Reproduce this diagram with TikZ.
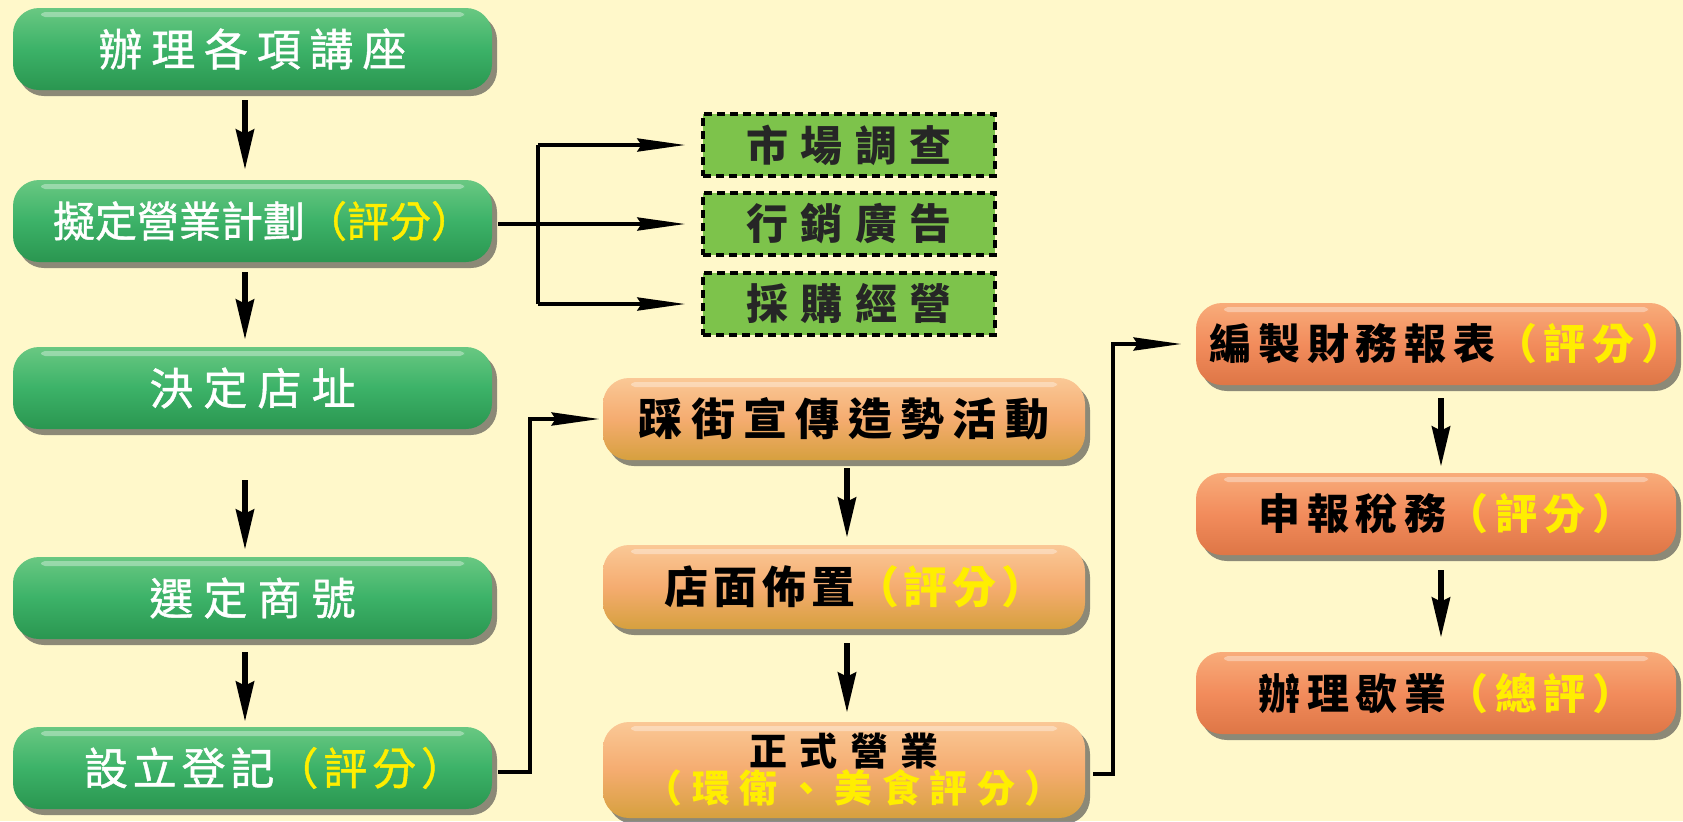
\documentclass[tikz,border=0pt]{standalone}
\usepackage{fontspec}
\setmainfont{Noto Sans CJK TC}
\usetikzlibrary{arrows.meta,shadows,calc}
\definecolor{bgY}{RGB}{255,248,202}
\definecolor{gTop}{RGB}{105,200,130}
\definecolor{gMid}{RGB}{60,178,104}
\definecolor{gBot}{RGB}{42,150,80}
\definecolor{oTop}{RGB}{250,200,150}
\definecolor{oMid}{RGB}{245,172,112}
\definecolor{oBot}{RGB}{214,160,62}
\definecolor{rTop}{RGB}{248,172,122}
\definecolor{rMid}{RGB}{242,140,92}
\definecolor{rBot}{RGB}{222,118,70}
\definecolor{dashG}{RGB}{125,195,75}
\definecolor{yel}{RGB}{255,238,0}
\newcommand\lsp[2]{{\addfontfeature{LetterSpace=#1}#2}}
\newcommand\cpar{）\hspace{-0.5em}}
\tikzset{
  box/.style={rectangle, rounded corners=13pt, minimum height=41pt, inner sep=0pt,
    drop shadow={shadow xshift=2.5pt, shadow yshift=-3pt, opacity=0.6, fill=black!75},
    path picture={\fill[white,opacity=0.35,rounded corners=2pt]
      ([xshift=14pt,yshift=-2pt]path picture bounding box.north west) rectangle
      ([xshift=-14pt,yshift=-4.5pt]path picture bounding box.north east);}},
  gbox/.style={box, minimum width=239.5pt, top color=gTop, bottom color=gBot, middle color=gMid,
    text=white, font=\fontsize{22pt}{26pt}\selectfont\addfontfeature{FakeBold=1}},
  obox/.style={box, minimum width=241pt, top color=oTop, bottom color=oBot, middle color=oMid,
    text=black, font=\bfseries\fontsize{22pt}{26pt}\selectfont},
  rbox/.style={box, minimum width=240pt, top color=rTop, bottom color=rBot, middle color=rMid,
    text=black, font=\bfseries\fontsize{21pt}{25pt}\selectfont},
  dbox/.style={rectangle, draw=black, line width=1.6pt, dash pattern=on 4pt off 2.5pt,
    fill=dashG, minimum width=146pt, minimum height=31pt, inner sep=0pt,
    text=black!85, font=\bfseries\fontsize{21pt}{24pt}\selectfont},
  varr/.style={line width=2.8pt, -{Stealth[length=20pt,width=9pt,inset=2pt]}},
  harr/.style={line width=2pt, -{Stealth[length=24pt,width=6.5pt,inset=2pt]}},
  plainline/.style={line width=2pt},
}
\begin{document}
\begin{tikzpicture}[x=0.5pt,y=-0.5pt]
\fill[bgY] (0,0) rectangle (1683,821);
\useasboundingbox (0,0) rectangle (1683,821);

% left column
\node[gbox] (g1) at (252.5,49) {\lsp{20}{辦理各項講座}};
\node[gbox, font=\fontsize{21pt}{25pt}\selectfont\addfontfeature{FakeBold=1}] (g2) at (252.5,221) {\lsp{0}{擬定營業計劃\textcolor{yel}{（評分\cpar}}};
\node[gbox] (g3) at (252.5,388) {\lsp{23}{決定店址}};
\node[gbox] (g4) at (252.5,598) {\lsp{23}{選定商號}};
\node[gbox] (g5) at (252.5,768) {\hspace*{11pt}\lsp{11}{設立登記\textcolor{yel}{（評分\cpar}}};

% dashed boxes
\node[dbox] (d1) at (849,145) {\lsp{30}{市場調查}};
\node[dbox] (d2) at (849,224) {\lsp{30}{行銷廣告}};
\node[dbox] (d3) at (849,304) {\lsp{30}{採購經營}};

% middle column
\node[obox] (m1) at (844,419) {\lsp{19}{踩街宣傳造勢活動}};
\node[obox, minimum height=42pt] (m2) at (844,587) {\lsp{11}{店面佈置\textcolor{yel}{（評分\cpar}}};
\node[obox, minimum height=48pt, align=center, font=\bfseries\fontsize{19pt}{18.5pt}\selectfont] (m3) at (844,770)
  {\lsp{32}{正式營業}\\\textcolor{yel}{\lsp{25}{（環衛、美食評分\cpar}}};

% right column
\node[rbox] (r1) at (1436,344) {\lsp{16}{編製財務報表\textcolor{yel}{（評分\cpar}}};
\node[rbox] (r2) at (1436,514) {\lsp{16}{申報稅務\textcolor{yel}{（評分\cpar}}};
\node[rbox] (r3) at (1436,693) {\lsp{16}{辦理歇業\textcolor{yel}{（總評\cpar}}};

% vertical arrows
\draw[varr, shorten <=5pt, shorten >=5pt] ([xshift=-3.75pt]g1.south) -- ([xshift=-3.75pt]g2.north);
\draw[varr, shorten <=5pt, shorten >=3.5pt] ([xshift=-3.75pt]g2.south) -- ([xshift=-3.75pt]g3.north);
\draw[varr, shorten <=25.5pt, shorten >=3.5pt] ([xshift=-3.75pt]g3.south) -- ([xshift=-3.75pt]g4.north);
\draw[varr, shorten <=6.5pt, shorten >=2.5pt] ([xshift=-3.75pt]g4.south) -- ([xshift=-3.75pt]g5.north);

\draw[varr, shorten <=4pt, shorten >=3.5pt] ([xshift=1.5pt]m1.south) -- ([xshift=1.5pt]m2.north);
\draw[varr, shorten <=7pt, shorten >=4.5pt] ([xshift=1.5pt]m2.south) -- ([xshift=1.5pt]m3.north);

\draw[varr, shorten <=6.5pt, shorten >=3pt] ([xshift=2.5pt]r1.south) -- ([xshift=2.5pt]r2.north);
\draw[varr, shorten <=7.5pt, shorten >=7pt] ([xshift=2.5pt]r2.south) -- ([xshift=2.5pt]r3.north);

% branch to dashed boxes
\coordinate (br) at (538,0);
\draw[harr, shorten <=3pt, shorten >=8pt] ([yshift=-1.5pt]g2.east) -- (d2.west);
\draw[plainline] (br |- d1.west) -- (br |- d3.west);
\draw[harr, shorten >=8pt] (br |- d1.west) -- (d1.west);
\draw[harr, shorten >=8pt] (br |- d3.west) -- (d3.west);

% cross-column connectors
\coordinate (c1) at (530,0);
\draw[harr, shorten <=3pt, shorten >=1.5pt] ([yshift=-2pt]g5.east) -| (c1 |- m1.west) -- (m1.west);
\coordinate (c2) at (1113,0);
\draw[harr, shorten <=4pt, shorten >=7pt] ([yshift=-2pt]m3.east) -| (c2 |- r1.west) -- (r1.west);
\end{tikzpicture}
\end{document}
